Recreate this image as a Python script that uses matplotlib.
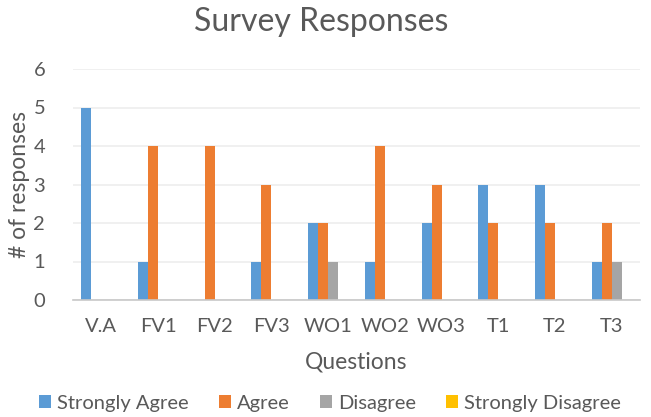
import matplotlib
matplotlib.use("Agg")
import matplotlib.pyplot as plt
import numpy as np

categories = ["V.A", "FV1", "FV2", "FV3", "WO1", "WO2", "WO3", "T1", "T2", "T3"]
series_names = ["Strongly Agree", "Agree", "Disagree", "Strongly Disagree"]
strongly_agree = [5, 1, 0, 1, 2, 1, 2, 3, 3, 1]
agree = [0, 4, 4, 3, 2, 4, 3, 2, 2, 2]
disagree = [0, 0, 0, 0, 1, 0, 0, 0, 0, 1]
strongly_disagree = [0, 0, 0, 0, 0, 0, 0, 0, 0, 0]
yticks = [0, 1, 2, 3, 4, 5, 6]

colors = ["#5B9BD5", "#ED7D31", "#A5A5A5", "#FFC000"]
text_color = "#595959"
plt.rcParams['font.family'] = ['Lato', 'DejaVu Sans']

fig = plt.figure(figsize=(6.51, 4.17), dpi=100)
ax = fig.add_axes([73/651, 1-300/417, (640-73)/651, (300-69)/417])

x = np.arange(len(categories))
w = 0.176
data = [strongly_agree, agree, disagree, strongly_disagree]
for i, (vals, name, c) in enumerate(zip(data, series_names, colors)):
    ax.bar(x + (i - 1.5) * w, vals, width=w, color=c, label=name, zorder=3)

ax.set_xlim(-0.5, len(categories) - 0.5)
ax.set_ylim(0, 6)
ax.set_yticks(yticks)
ax.set_xticks(x)
ax.set_xticklabels(categories)
ax.tick_params(axis='both', length=0, labelsize=14.5, colors=text_color)
ax.tick_params(axis='x', pad=13)
ax.tick_params(axis='y', pad=20)
ax.grid(axis='y', color="#EEEEEE", linewidth=1.2, zorder=0)
for s in ["top", "right", "left"]:
    ax.spines[s].set_visible(False)
ax.spines["bottom"].set_color("#C8C8C8")
ax.spines["bottom"].set_linewidth(1.2)
ax.spines["bottom"].set_zorder(4)

ax.set_ylabel("# of responses", fontsize=16.5, color=text_color, va='center')
ax.yaxis.set_label_coords((20 - 73) / 567, 0.5)
ax.set_xlabel("Questions", fontsize=16.5, color=text_color, va='center')
ax.xaxis.set_label_coords(0.5, (300 - 362) / 231)
fig.text(321/651, 1-22/417, "Survey Responses", ha='center', va='center',
         fontsize=23, color=text_color)

leg = fig.legend(loc='center', bbox_to_anchor=(330/651, 1-403/417), ncol=4,
                 frameon=False, fontsize=14.5, handlelength=0.6, handleheight=0.6,
                 handletextpad=0.3, columnspacing=1.5, labelcolor=text_color)

fig.savefig("out.png", dpi=100)
